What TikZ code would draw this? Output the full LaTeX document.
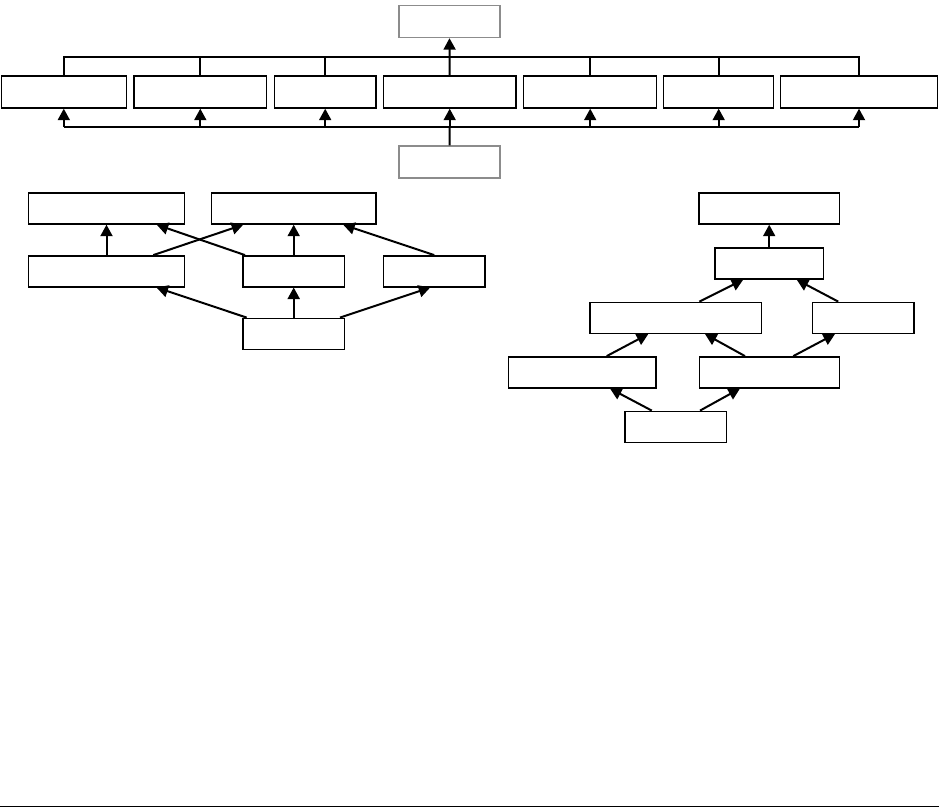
\documentclass[tikz,border=0pt]{standalone}
\usetikzlibrary{arrows.meta,calc}
\begin{document}
\begin{tikzpicture}[x=1pt,y=-1pt,
  box/.style={draw=black,line width=1.4pt,fill=white,inner sep=0pt,minimum height=31pt},
  gbox/.style={draw=black!45,line width=1.4pt,fill=white,inner sep=0pt,minimum height=32pt},
  arr/.style={line width=2pt,-{Triangle[length=11.5pt,width=12pt]}},
  bus/.style={line width=2pt}]
\useasboundingbox (0,0) rectangle (941,808);
% top row
\node[gbox,minimum width=101pt] (T) at (449.5,21.5) {};
\node[gbox,minimum width=101pt] (Bt) at (449.5,162) {};
\node[box,minimum height=32pt,minimum width=125pt] (P1) at (63.8,92) {};
\node[box,minimum height=32pt,minimum width=132.7pt] (P2) at (200.3,92) {};
\node[box,minimum height=32pt,minimum width=101.7pt] (P3) at (325.2,92) {};
\node[box,minimum height=32pt,minimum width=132.7pt] (P4) at (449.7,92) {};
\node[box,minimum height=32pt,minimum width=133pt] (P5) at (590.2,92) {};
\node[box,minimum height=32pt,minimum width=110pt] (P6) at (718.7,92) {};
\node[box,minimum height=32pt,minimum width=156.6pt] (P7) at (859,92) {};
\draw[bus] (P1.north) -- (P1.north |- 0,57) -- (P7.north |- 0,57) -- (P7.north);
\foreach \p in {P2,P3,P5,P6}{\draw[bus] (\p.north) -- (\p.north |- 0,57);}
\draw[arr] (P4.north) -- (T.south);
\draw[bus] (P1.south |- 0,127) -- (P7.south |- 0,127);
\foreach \p in {P1,P2,P3,P4,P5,P6,P7}{\draw[arr] (\p.south |- 0,127) -- (\p.south);}
\draw[bus] (Bt.north) -- (P4.south |- 0,127);
% left diagram
\node[box,minimum width=155.6pt] (A1) at (106.5,208.5) {};
\node[box,minimum width=164.3pt] (A2) at (293.7,208.5) {};
\node[box,minimum width=155.6pt] (B1) at (106.5,271.3) {};
\node[box,minimum width=101.3pt] (B2) at (293.7,271.3) {};
\node[box,minimum width=101.7pt] (B3) at (434.2,271.3) {};
\node[box,minimum width=101.3pt] (C) at (293.7,333.8) {};
\draw[arr] (B1.north) -- (A1.south);
\draw[arr] ([xshift=46.8pt]B1.north) -- ([xshift=-50.5pt]A2.south);
\draw[arr] ([xshift=-48.7pt]B2.north) -- ([xshift=50.2pt]A1.south);
\draw[arr] (B2.north) -- (A2.south);
\draw[arr] (B3.north) -- ([xshift=49.5pt]A2.south);
\draw[arr] ([xshift=-47pt]C.north) -- ([xshift=50pt]B1.south);
\draw[arr] (C.north) -- (B2.south);
\draw[arr] ([xshift=46.3pt]C.north) -- ([xshift=-4pt]B3.south);
% right diagram
\node[box,minimum width=140.3pt] (R1) at (769.2,208.5) {};
\node[box,minimum width=108.3pt] (R2) at (769.2,263.5) {};
\node[box,minimum width=171.7pt] (R3) at (675.8,317.8) {};
\node[box,minimum width=101.7pt] (R4) at (863.2,317.8) {};
\node[box,minimum width=147.7pt] (R5) at (582.2,372.3) {};
\node[box,minimum width=140pt] (R6) at (769.3,372.3) {};
\node[box,minimum width=101.7pt] (R7) at (675.8,426.8) {};
\draw[arr] (R2.north) -- (R1.south);
\draw[arr] ([xshift=23.5pt]R3.north) -- ([xshift=-26pt]R2.south);
\draw[arr] ([xshift=-25pt]R4.north) -- ([xshift=27.5pt]R2.south);
\draw[arr] ([xshift=24.5pt]R5.north) -- ([xshift=-27.5pt]R3.south);
\draw[arr] ([xshift=-24.3pt]R6.north) -- ([xshift=29.2pt]R3.south);
\draw[arr] ([xshift=24pt]R6.north) -- ([xshift=-28.2pt]R4.south);
\draw[arr] ([xshift=-24pt]R7.north) -- ([xshift=27.8pt]R5.south);
\draw[arr] ([xshift=24.2pt]R7.north) -- ([xshift=-29.3pt]R6.south);
% bottom rule
\draw[line width=1.2pt] (0,806.5) -- (939,806.5);
\end{tikzpicture}
\end{document}
